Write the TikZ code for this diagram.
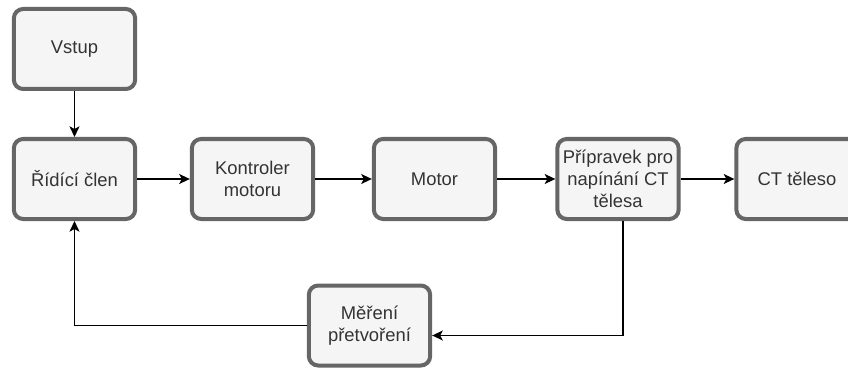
\documentclass[tikz,border=0pt]{standalone}
\usepackage{fontspec}
\setmainfont{Liberation Sans}
\usetikzlibrary{arrows.meta}
\definecolor{blokfill}{HTML}{F5F5F5}
\definecolor{blokline}{HTML}{666666}
\definecolor{bloktext}{HTML}{333333}

\begin{document}
\begin{tikzpicture}[x=0.75pt, y=-0.75pt]
		\tikzstyle{blok} = [draw=blokline, fill=blokfill, line width=3pt, rounded corners=7pt, minimum width=91pt, minimum height=60pt, align=center, text=bloktext, font=\fontsize{13.8}{16.5}\selectfont]
		\tikzstyle{sip} = [-{Stealth[length=8pt, width=7.5pt, inset=2pt]}, line width=1pt, black]
		\useasboundingbox (0,0) rectangle (848,367);
		\node [blok] (vstup) at (74.5,49) {Vstup};
		\node [blok] (ridici) at (74.5,179) {Řídící člen};
		\node [blok] (kontroler) at (252.5,179) {Kontroler\\motoru};
		\node [blok] (motor) at (434.5,179) {Motor};
		\node [blok] (pripravek) at (618,179) {Přípravek pro\\napínání CT\\tělesa};
		\node [blok] (ct) at (797,179) {CT těleso};
		\node [blok] (mereni) at (369.5,325.5) {Měření\\přetvoření};
		\draw [sip] (vstup) -- (ridici);
		\draw [sip] (ridici) -- (kontroler);
		\draw [sip] (kontroler) -- (motor);
		\draw [sip] (motor) -- (pripravek);
		\draw [sip] (pripravek) -- (ct);
		\draw [sip] ([xshift=3.75pt]pripravek.south) |- ([yshift=-7.5pt]mereni.east);
		\draw [sip] (mereni.west) -| (ridici.south);
\end{tikzpicture}
\end{document}
